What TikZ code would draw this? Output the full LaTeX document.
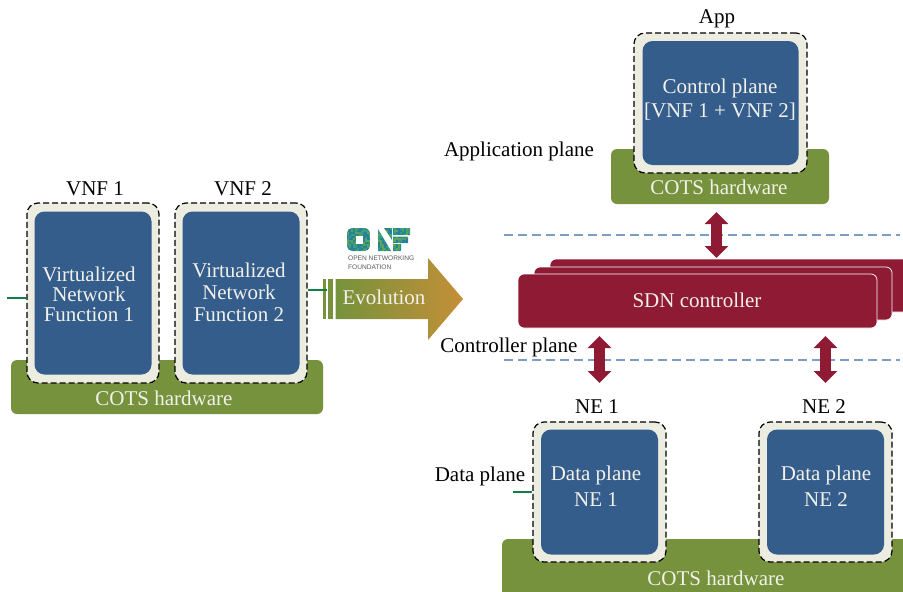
\documentclass[tikz,border=0pt]{standalone}
\usepackage{fontspec}
\setmainfont{Liberation Serif}
\newfontfamily\logofont{Liberation Sans}
\usetikzlibrary{arrows.meta,shadings}
\definecolor{boxblue}{HTML}{355D8C}
\definecolor{cream}{HTML}{ECECE0}
\definecolor{hwgreen}{HTML}{76923C}
\definecolor{sdnred}{HTML}{8E1A34}
\definecolor{txtlight}{HTML}{F1F1EA}
\definecolor{linkgreen}{HTML}{0F7F45}
\definecolor{planeblue}{HTML}{7F9CC4}
\definecolor{arrowgold}{HTML}{C48F37}
\definecolor{logoa}{HTML}{1C8C8C}
\definecolor{logob}{HTML}{5FA35A}
\definecolor{logoc}{HTML}{2A7FA0}
\definecolor{logod}{HTML}{3E9C7A}
\newcommand{\mainfs}{\fontsize{21}{24}\selectfont}
\tikzset{
  x=1pt,y=-1pt,
  lbl/.style={inner sep=0pt,font=\mainfs,text=black},
  lighttxt/.style={inner sep=0pt,text=txtlight,align=center,font=\mainfs},
  hw/.style={fill=hwgreen,rounded corners=6pt,inner sep=0pt},
  vm/.style={draw=black,fill=cream,line width=1.2pt,dash pattern=on 6pt off 3pt,rounded corners=11pt,inner sep=0pt},
  core/.style={fill=boxblue,rounded corners=10pt,inner sep=0pt},
  ctrl/.style={fill=sdnred,draw=white,line width=.7pt,rounded corners=6pt,inner sep=0pt},
  plane/.style={draw=planeblue,line width=1.1pt,dash pattern=on 9pt off 5pt},
  link/.style={draw=linkgreen,line width=1.4pt},
  bidir/.style={draw=sdnred,line width=11.5pt,{Triangle[length=12pt,width=23pt]}-{Triangle[length=12pt,width=23pt]}},
}
\newcommand{\boxat}[6]{% style, name, x1, y1, x2, y2
  \node[#1,minimum width=#5-#3,minimum height=#6-#4] (#2) at ({(#3+#5)/2},{(#4+#6)/2}) {};}
\begin{document}
\begin{tikzpicture}
\useasboundingbox (0,0) rectangle (903,592);
% left group
\boxat{hw}{hwL}{11}{360}{323}{414}
\node[lighttxt] (hwLt) at (164,398) {COTS hardware};
\boxat{vm}{vnfa}{27}{203}{159}{383}
\boxat{vm}{vnfb}{175}{203}{307}{383}
\node[core,minimum width=117pt,minimum height=163pt] (vnfai) at (vnfa) {};
\node[core,minimum width=117pt,minimum height=163pt] (vnfbi) at (vnfb) {};
\node[lighttxt,font=\fontsize{21}{20}\selectfont] (vnfat) at (89,294) {Virtualized\\Network\\Function 1};
\node[lighttxt,font=\fontsize{21}{22}\selectfont] (vnfbt) at (239,292) {Virtualized\\Network\\Function 2};
\node[lbl] (vnfal) at (95,189) {VNF 1};
\node[lbl] (vnfbl) at (243,189) {VNF 2};
\coordinate (stubL) at (7,298);
\draw[link] (stubL) -- (stubL -| vnfa.west);
% evolution arrow
\fill[hwgreen] (323.3,279) rectangle (325.7,319);
\fill[hwgreen] (328.3,279) rectangle (333.3,319);
\shade[left color=hwgreen,right color=arrowgold,shading=axis,shading angle=90]
  (335.7,279) -- (428,279) -- (428,258) -- (463,299) -- (428,340) -- (428,319) -- (335.7,319) -- cycle;
\node[lighttxt] (evo) at (384,297) {Evolution};
\coordinate (stubR) at (327,290);
\draw[link] (stubR -| vnfb.east) -- (stubR);
% ONF logo
\begin{scope}
\clip[rounded corners=5pt] (347,228) rectangle (370,251);
\pgfmathsetseed{7}
\foreach \i in {0,...,11}{\foreach \j in {0,...,11}{
  \pgfmathtruncatemacro{\r}{random(1,4)}
  \ifcase\r\or\def\cc{logoa}\or\def\cc{logob}\or\def\cc{logoc}\or\def\cc{logod}\fi
  \fill[\cc] ({347+2*\i},{228+2*\j}) rectangle +(2,2);
}}
\end{scope}
\fill[white] (356,236) rectangle (363,243.5);
\begin{scope}
\clip (378,229) -- (378,251) -- (391,251) -- cycle (384,228) -- (392,228) -- (392,240) -- cycle (393,228) rectangle (410,235) (393,236.5) rectangle (408,243) (393,244) rectangle (401,251);
\foreach \i in {0,...,16}{\foreach \j in {0,...,11}{
  \pgfmathtruncatemacro{\r}{random(1,4)}
  \ifcase\r\or\def\cc{logoa}\or\def\cc{logob}\or\def\cc{logoc}\or\def\cc{logod}\fi
  \fill[\cc] ({378+2*\i},{228+2*\j}) rectangle +(2,2);
}}
\end{scope}
\node[anchor=west,align=left,inner sep=0pt,text=black!65,font=\logofont\fontsize{6.6}{8.8}\selectfont] (onf) at (348,262.5) {OPEN NETWORKING\\FOUNDATION};
% plane lines
\coordinate (pla) at (504,235); \coordinate (plb) at (900,235);
\coordinate (plc) at (504,360); \coordinate (pld) at (900,360);
\draw[plane] (pla) -- (plb);
\draw[plane] (plc) -- (pld);
% SDN controller
\boxat{ctrl}{sdnc}{550}{259}{940}{312}
\boxat{ctrl}{sdnb}{534}{267}{892}{320}
\boxat{ctrl}{sdna}{518}{274}{877}{328}
\node[lighttxt] (sdnt) at (697,300) {SDN controller};
% app
\boxat{hw}{hwA}{611}{149}{829}{204}
\boxat{vm}{appv}{634}{33}{807}{173}
\node[core,minimum width=156pt,minimum height=124pt] (appi) at (appv) {};
\node[lighttxt,font=\fontsize{21}{24}\selectfont] (appt) at (720,100) {Control plane\\{}[VNF 1 + VNF 2]};
\node[lighttxt] (hwAt) at (719,187) {COTS hardware};
\node[lbl] (appl) at (717,18.5) {App};
\node[lbl] (aplane) at (519,151) {Application plane};
\node[lbl] (cplane) at (509,347) {Controller plane};
\node[lbl] (dplane) at (480,476) {Data plane};
% NEs
\path[fill=hwgreen,rounded corners=6pt] (502,539) rectangle (925,620);
\coordinate (hwD) at (716,578);
\node[lighttxt] (hwDt) at (hwD) {COTS hardware};
\boxat{vm}{nea}{533}{422}{666}{562}
\boxat{vm}{neb}{759}{422}{892}{562}
\node[core,minimum width=117pt,minimum height=125pt] (neai) at (nea) {};
\node[core,minimum width=117pt,minimum height=125pt] (nebi) at (neb) {};
\node[lighttxt,font=\fontsize{21}{26}\selectfont] (neat) at (596,486.5) {Data plane\\NE 1};
\node[lighttxt,font=\fontsize{21}{26}\selectfont] (nebt) at (826,486.5) {Data plane\\NE 2};
\node[lbl] (neal) at (597,407) {NE 1};
\node[lbl] (nebl) at (824,407) {NE 2};
\coordinate (stubD) at (513,492);
\draw[link] (stubD) -- (stubD -| nea.west);
% bidirectional arrows
\coordinate (ua) at (716.5,212); \coordinate (ub) at (716.5,258);
\coordinate (da) at (599.5,336); \coordinate (db) at (599.5,383);
\coordinate (ea) at (825.5,336); \coordinate (eb) at (825.5,383);
\draw[bidir] (ua) -- (ub);
\draw[bidir] (da) -- (db);
\draw[bidir] (ea) -- (eb);
\end{tikzpicture}
\end{document}
